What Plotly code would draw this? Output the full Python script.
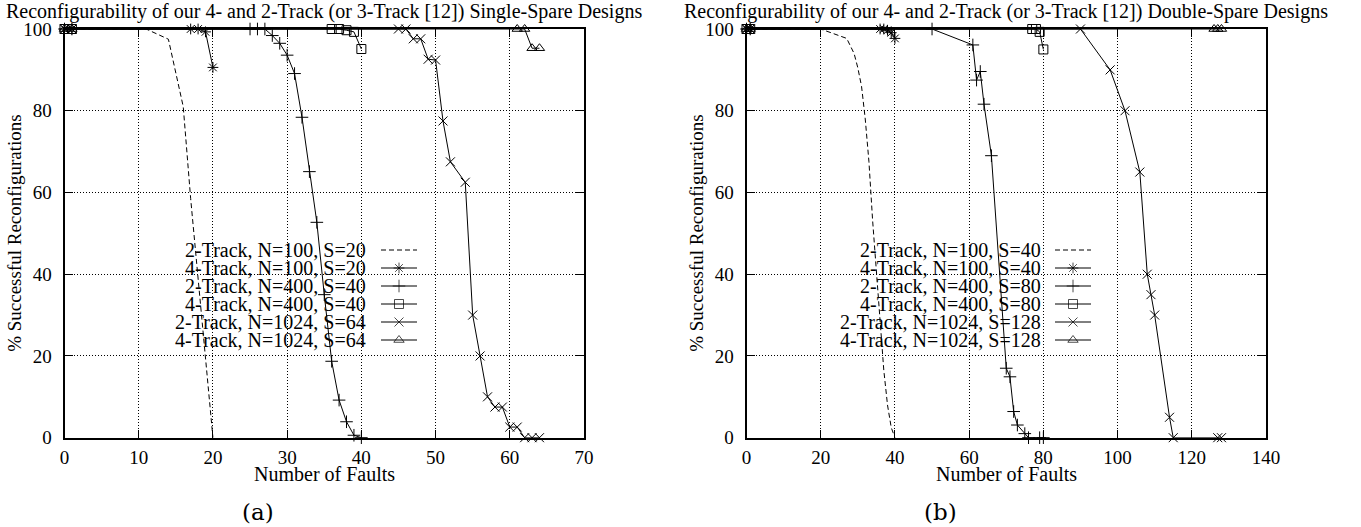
import plotly.graph_objects as go

# ---------------- data ----------------
# Left panel (a): single-spare designs
a_2t100_x = [0, 11, 14, 16, 17, 18, 19, 20]
a_2t100_y = [100, 100, 97.5, 81, 58.5, 38.5, 19.5, 0]
a_4t100_x = [0, 1, 17, 18, 19, 20]
a_4t100_y = [100, 100, 100, 100, 99.3, 90.6]
a_2t400_x = [0, 1, 25, 26, 27, 28, 29, 30, 31, 32, 33, 34, 35, 36, 37, 38, 39, 40]
a_2t400_y = [100, 100, 100, 100, 100, 98.4, 96.5, 93.6, 89.1, 78.4, 65.1, 52.7, 35.0, 18.7, 9.2, 3.9, 0.6, 0]
a_4t400_x = [0, 1, 36, 37, 38, 39, 40]
a_4t400_y = [100, 100, 100, 100, 99.7, 99.3, 95.1]
a_2t1024_x = [0, 1, 45, 46, 47, 48, 49, 50, 51, 52, 54, 55, 56, 57, 58, 59, 60, 61, 62, 63, 64]
a_2t1024_y = [100, 100, 100, 100, 97.6, 97.6, 92.6, 92.4, 77.5, 67.5, 62.5, 30, 20, 10, 7.5, 7.5, 2.6, 2.6, 0, 0, 0]
a_4t1024_x = [0, 1, 61, 62, 63, 64]
a_4t1024_y = [100, 100, 100, 100, 95.3, 95.3]

# Right panel (b): double-spare designs
b_2t100_x = [0, 20, 27, 29, 30, 31, 32, 33, 34, 35, 36, 37, 38, 39, 40]
b_2t100_y = [100, 100, 97.7, 94, 90.5, 86, 78, 67.5, 53, 40, 27, 16.5, 8, 2.5, 0]
b_4t100_x = [0, 1, 36, 37, 38, 39, 40]
b_4t100_y = [100, 100, 100, 100, 99.7, 99.1, 97.7]
b_2t400_x = [0, 1, 50, 61, 62, 63, 64, 66, 70, 71, 72, 73, 75, 76, 79, 80]
b_2t400_y = [100, 100, 100, 96.1, 87.5, 89.6, 81.6, 69.0, 17.0, 14.9, 6.4, 3.1, 1.0, 0, 0, 0]
b_4t400_x = [0, 1, 77, 78, 79, 80]
b_4t400_y = [100, 100, 100, 100, 99.3, 95.0]
b_2t1024_x = [0, 1, 90, 98, 102, 106, 108, 109, 110, 114, 115, 127, 128]
b_2t1024_y = [100, 100, 100, 90, 80, 65, 40, 35, 30, 5, 0, 0, 0]
b_4t1024_x = [0, 1, 126, 127, 128]
b_4t1024_y = [100, 100, 100, 100, 100]

a_labels = ["2-Track, N=100, S=20", "4-Track, N=100, S=20", "2-Track, N=400, S=40",
            "4-Track, N=400, S=40", "2-Track, N=1024, S=64", "4-Track, N=1024, S=64"]
b_labels = ["2-Track, N=100, S=40", "4-Track, N=100, S=40", "2-Track, N=400, S=80",
            "4-Track, N=400, S=80", "2-Track, N=1024, S=128", "4-Track, N=1024, S=128"]

a_title = "Reconfigurability of our 4- and 2-Track (or 3-Track [12]) Single-Spare Designs"
b_title = "Reconfigurability of our 4- and 2-Track (or 3-Track [12]) Double-Spare Designs"
x_title = "Number of Faults"
y_title = "% Successful Reconfigurations"
a_x_range = [0, 70]
b_x_range = [0, 140]
y_range = [0, 100]

# ---------------- styles / layout ----------------
W, H = 1361, 527
FONT = "Liberation Serif"
FS = 20
TICK_FS = 19
STYLES = [
    dict(dash="5px,3px", symbol=None),
    dict(dash="solid", symbol="asterisk-open"),
    dict(dash="solid", symbol="cross-thin-open"),
    dict(dash="solid", symbol="square-open"),
    dict(dash="solid", symbol="x-thin-open"),
    dict(dash="solid", symbol="triangle-up-open"),
]
MSIZE = 9

# plot frames in pixels
A_X_PX = (64.5, 584.0)
B_X_PX = (746.5, 1266.0)
Y_PX = (29.0, 437.7)  # top, bottom


def px2paper_x(px):
    return px / W


def px2paper_y(py):
    return 1 - py / H


fig = go.Figure()

a_series = [(a_2t100_x, a_2t100_y), (a_4t100_x, a_4t100_y), (a_2t400_x, a_2t400_y),
            (a_4t400_x, a_4t400_y), (a_2t1024_x, a_2t1024_y), (a_4t1024_x, a_4t1024_y)]
b_series = [(b_2t100_x, b_2t100_y), (b_4t100_x, b_4t100_y), (b_2t400_x, b_2t400_y),
            (b_4t400_x, b_4t400_y), (b_2t1024_x, b_2t1024_y), (b_4t1024_x, b_4t1024_y)]


def add_series(series, labels, xa, ya):
    for (xs, ys), lab, st in zip(series, labels, STYLES):
        mode = "lines" if st["symbol"] is None else "lines+markers"
        fig.add_trace(go.Scatter(
            x=xs, y=ys, mode=mode, name=lab, xaxis=xa, yaxis=ya, showlegend=False,
            line=dict(color="black", width=1, dash=st["dash"]),
            marker=dict(symbol=st["symbol"] or "circle", size=MSIZE, color="black",
                        line=dict(color="black", width=1)),
            cliponaxis=False,
        ))


add_series(a_series, a_labels, "x", "y")
add_series(b_series, b_labels, "x2", "y2")

# annotations are placed on a hidden pixel-overlay axis (x3/y3)
def txt(x, y, text, size=FS, family=FONT, xanchor="center", angle=0):
    return dict(x=x, y=y, xref="x3", yref="y3", text=text, showarrow=False,
                xanchor=xanchor, yanchor="middle", textangle=angle,
                font=dict(family=family, size=size, color="black"))


# key (gnuplot style: right-aligned text, sample to the right)
KEY_ROWS = [250, 268, 286, 304, 322, 340]
KEYS = [
    dict(labels=a_labels, text_right=368, s0=381, s1=417),
    dict(labels=b_labels, text_right=1043, s0=1055, s1=1091),
]
annotations = []
for k in KEYS:
    for lab, st, row in zip(k["labels"], STYLES, KEY_ROWS):
        xm = (k["s0"] + k["s1"]) / 2
        fig.add_trace(go.Scatter(
            x=[k["s0"], xm, k["s1"]], y=[row, row, row], mode="lines+markers",
            xaxis="x3", yaxis="y3", showlegend=False, hoverinfo="skip",
            line=dict(color="black", width=1, dash=st["dash"]),
            marker=dict(symbol=st["symbol"] or "circle",
                        size=[0, MSIZE if st["symbol"] else 0, 0], color="black",
                        line=dict(color="black", width=1)),
        ))
        annotations.append(txt(k["text_right"], row, lab, xanchor="right"))

# titles and labels
for (x0, x1), title, tag in [(A_X_PX, a_title, "(a)"), (B_X_PX, b_title, "(b)")]:
    cx = (x0 + x1) / 2
    annotations.append(txt(cx, 11, title))
    annotations.append(txt(cx, 474, x_title))
    annotations.append(txt(cx - 66, 512, tag, size=23, family="DejaVu Serif"))
    annotations.append(txt(x0 - 50, (Y_PX[0] + Y_PX[1]) / 2, y_title, size=19, angle=-90))

axis_common = dict(
    showline=True, linecolor="black", linewidth=2, mirror="ticks",
    ticks="inside", ticklen=8, tickwidth=1, tickcolor="black",
    showgrid=True, gridcolor="black", griddash="1px,2px", gridwidth=1,
    zeroline=False, tickfont=dict(family=FONT, size=TICK_FS, color="black"),
    fixedrange=True, automargin=False,
)

fig.update_layout(
    width=W, height=H,
    margin=dict(l=0, r=0, t=0, b=0, pad=0, autoexpand=False),
    paper_bgcolor="white", plot_bgcolor="rgba(0,0,0,0)",
    showlegend=False,
    xaxis=dict(domain=[px2paper_x(A_X_PX[0]), px2paper_x(A_X_PX[1])], range=a_x_range,
               dtick=10, anchor="y", ticklabelstandoff=1, **axis_common),
    yaxis=dict(domain=[px2paper_y(Y_PX[1]), px2paper_y(Y_PX[0])], range=y_range,
               dtick=20, anchor="x", ticklabelstandoff=7, **axis_common),
    xaxis2=dict(domain=[px2paper_x(B_X_PX[0]), px2paper_x(B_X_PX[1])], range=b_x_range,
                dtick=20, anchor="y2", ticklabelstandoff=1, **axis_common),
    yaxis2=dict(domain=[px2paper_y(Y_PX[1]), px2paper_y(Y_PX[0])], range=y_range,
                dtick=20, anchor="x2", ticklabelstandoff=7, **axis_common),
    xaxis3=dict(domain=[0, 1], range=[0, W], visible=False, anchor="y3",
                fixedrange=True, automargin=False),
    yaxis3=dict(domain=[0, 1], range=[H, 0], visible=False, anchor="x3",
                fixedrange=True, automargin=False),
    annotations=annotations,
    font=dict(family=FONT, size=FS, color="black"),
)

fig.write_html("out.html",
               config={"displayModeBar": False},
               post_script="document.body.style.margin='0px';document.body.style.overflow='hidden';")
